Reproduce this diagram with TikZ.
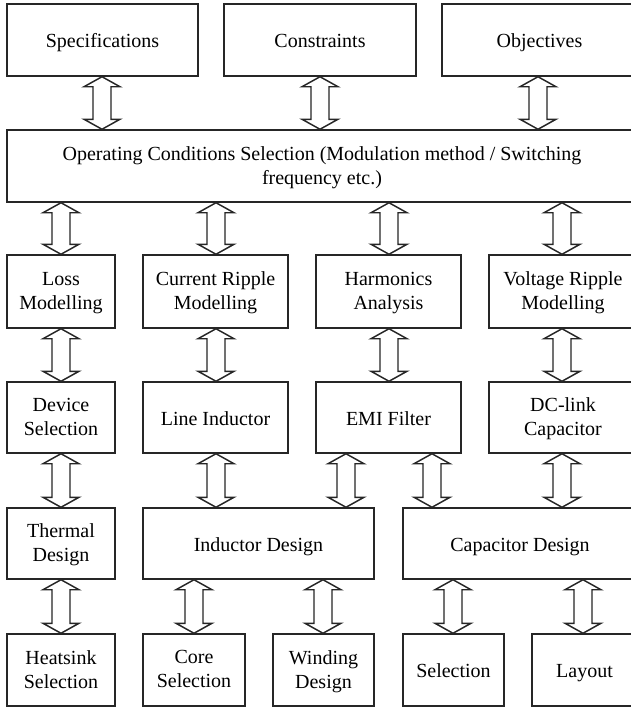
\documentclass[tikz,border=0pt]{standalone}
\usepackage{fontspec}
\setmainfont{Liberation Serif}
\usetikzlibrary{calc}
\tikzset{
  box/.style={draw=black!85, line width=1.1pt, fill=white, inner sep=0pt, anchor=center},
  txt/.style={inner sep=0pt, align=center, anchor=center, font=\fontsize{15}{18}\selectfont,
    execute at begin node=\strut, execute at end node=\strut},
  harrow/.style={draw=black!85, line width=1.1pt, fill=white, line join=miter}
}
% \bx{name}{x1}{y1}{x2}{y2}{text}
\newcommand\bx[6]{%
  \node[box, minimum width={(#4-#2)*0.75pt}, minimum height={(#5-#3)*0.75pt}]
    (#1) at ({(#2+#4)/2},{(#3+#5)/2}) {};
  \node[txt] (#1-t) at ([yshift=-2.2pt]#1.center) {#6};}
\newcommand\harr[3]{%
  \draw[harrow] let \p1=(#2.south), \p2=(#3.north), \p3=(#1,0) in
    (\x3,\y1) -- (\x3+13.5pt,\y1-7.5pt) -- (\x3+6.75pt,\y1-7.5pt) --
    (\x3+6.75pt,\y2+7.5pt) -- (\x3+13.5pt,\y2+7.5pt) -- (\x3,\y2) --
    (\x3-13.5pt,\y2+7.5pt) -- (\x3-6.75pt,\y2+7.5pt) --
    (\x3-6.75pt,\y1-7.5pt) -- (\x3-13.5pt,\y1-7.5pt) -- cycle;}
\begin{document}
\begin{tikzpicture}[x=0.75pt,y=-0.75pt]
\fill[white] (0,0) rectangle (631,711);
\clip (0,0) rectangle (631,711);
% row 1
\bx{spec}{7}{4}{198}{76}{Specifications}
\bx{cons}{224}{4}{416}{76}{Constraints}
\bx{obj}{442}{4}{637}{76}{Objectives}
% row 2
\bx{op}{7}{130}{637}{202}{Operating Conditions Selection (Modulation method / Switching\\frequency etc.)}
% row 3
\bx{loss}{7}{255}{115}{328}{Loss\\Modelling}
\bx{cur}{143}{255}{288}{328}{Current Ripple\\Modelling}
\bx{harm}{316}{255}{461}{328}{Harmonics\\Analysis}
\bx{volt}{489}{255}{637}{328}{Voltage Ripple\\Modelling}
% row 4
\bx{dev}{7}{382}{115}{453}{Device\\Selection}
\bx{line}{143}{382}{288}{453}{Line Inductor}
\bx{emi}{316}{382}{461}{453}{EMI Filter}
\bx{dc}{489}{382}{637}{453}{DC-link\\Capacitor}
% row 5
\bx{therm}{7}{508}{115}{579}{Thermal\\Design}
\bx{ind}{143}{508}{374}{579}{Inductor Design}
\bx{cap}{403}{508}{637}{579}{Capacitor Design}
% row 6
\bx{heat}{7}{634}{115}{706}{Heatsink\\Selection}
\bx{core}{143}{634}{245}{706}{Core\\Selection}
\bx{wind}{273}{634}{374}{706}{Winding\\Design}
\bx{sel}{403}{634}{504}{706}{Selection}
\bx{lay}{532}{634}{637}{706}{Layout}
% arrows
\harr{102}{spec}{op}
\harr{320}{cons}{op}
\harr{538}{obj}{op}
\harr{61}{op}{loss}
\harr{216}{op}{cur}
\harr{389}{op}{harm}
\harr{562}{op}{volt}
\harr{61}{loss}{dev}
\harr{216}{cur}{line}
\harr{389}{harm}{emi}
\harr{562}{volt}{dc}
\harr{61}{dev}{therm}
\harr{216}{line}{ind}
\harr{346}{emi}{ind}
\harr{432}{emi}{cap}
\harr{562}{dc}{cap}
\harr{61}{therm}{heat}
\harr{194}{ind}{core}
\harr{323}{ind}{wind}
\harr{453}{cap}{sel}
\harr{583}{cap}{lay}
\end{tikzpicture}
\end{document}
